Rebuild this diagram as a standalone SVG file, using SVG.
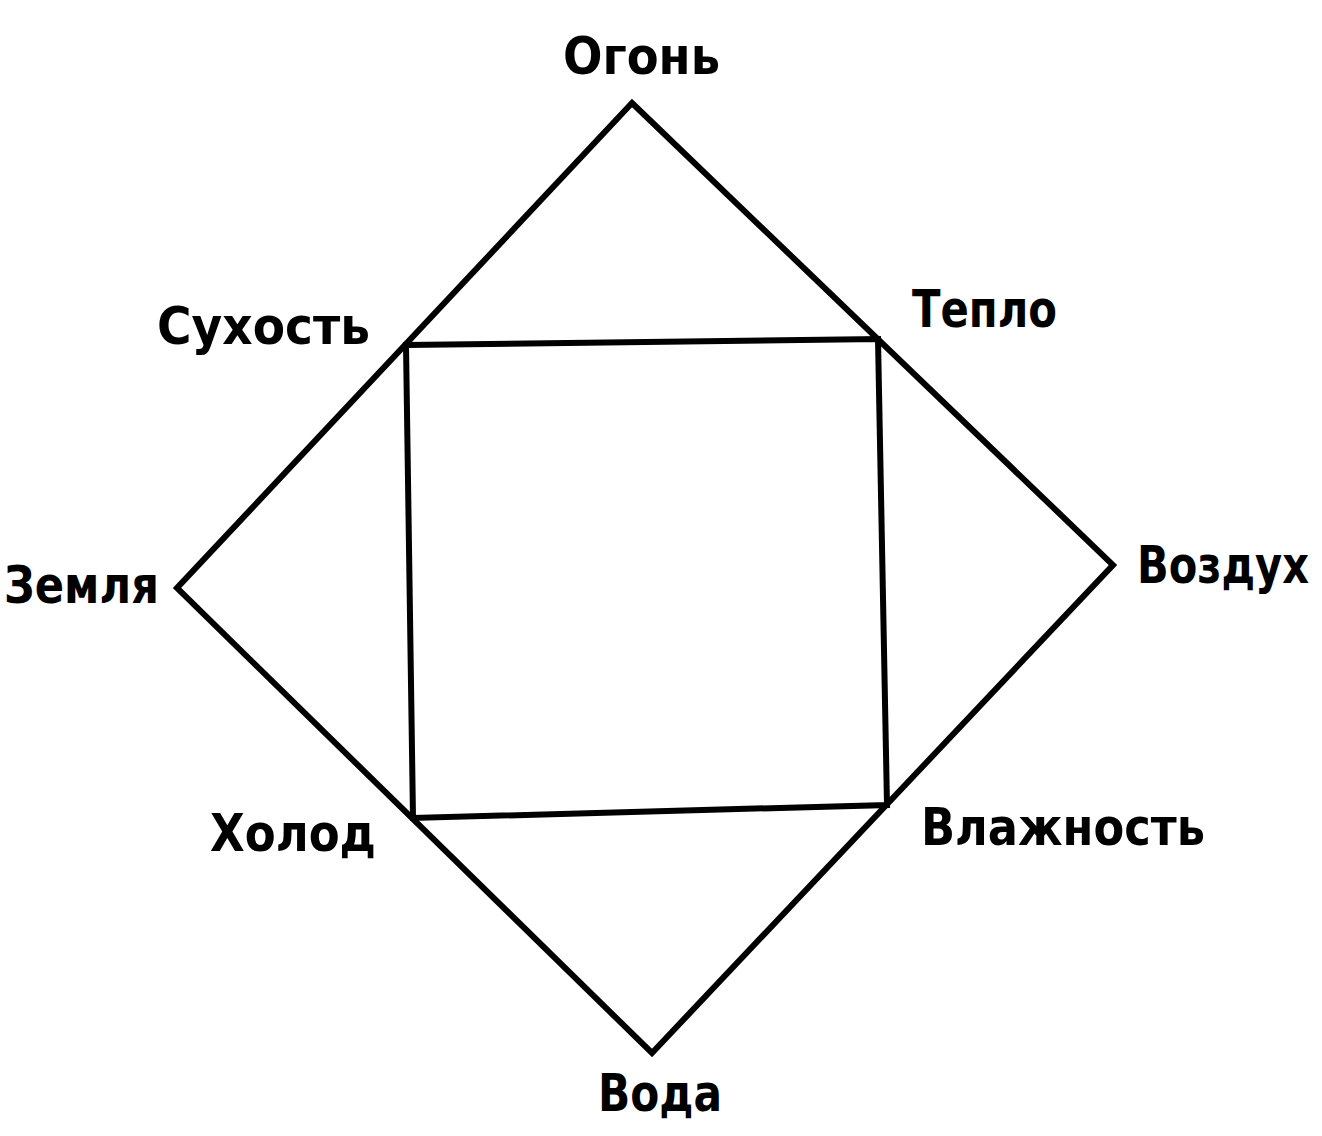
<svg xmlns="http://www.w3.org/2000/svg" width="1322" height="1136" viewBox="0 0 1322 1136">
<style>
.lbl{font-family:"DejaVu Sans","Liberation Sans",sans-serif;font-weight:bold;font-size:52px;fill:#000}
.ln{fill:none;stroke:#000;stroke-width:6;stroke-linejoin:miter}
</style>
<rect width="1322" height="1136" fill="#fff"/>
<g id="connectors">
<polygon class="ln" points="632,103 1113,565 652,1053 177,588"/>
<polygon class="ln" points="406,345 878,339 887,805 413,818"/>
</g>
<g id="node-ogon"><text class="lbl" x="563" y="74" textLength="157" lengthAdjust="spacingAndGlyphs">Огонь</text></g>
<g id="node-teplo"><text class="lbl" x="912" y="327" textLength="145" lengthAdjust="spacingAndGlyphs">Тепло</text></g>
<g id="node-sukhost"><text class="lbl" x="157" y="344" textLength="213" lengthAdjust="spacingAndGlyphs">Сухость</text></g>
<g id="node-zemlya"><text class="lbl" x="4" y="603" textLength="155" lengthAdjust="spacingAndGlyphs">Земля</text></g>
<g id="node-vozdukh"><text class="lbl" x="1137" y="583" textLength="172" lengthAdjust="spacingAndGlyphs">Воздух</text></g>
<g id="node-kholod"><text class="lbl" x="210" y="851" textLength="166" lengthAdjust="spacingAndGlyphs">Холод</text></g>
<g id="node-vlazhnost"><text class="lbl" x="921" y="845" textLength="284" lengthAdjust="spacingAndGlyphs">Влажность</text></g>
<g id="node-voda"><text class="lbl" x="598" y="1111" textLength="124" lengthAdjust="spacingAndGlyphs">Вода</text></g>
</svg>
